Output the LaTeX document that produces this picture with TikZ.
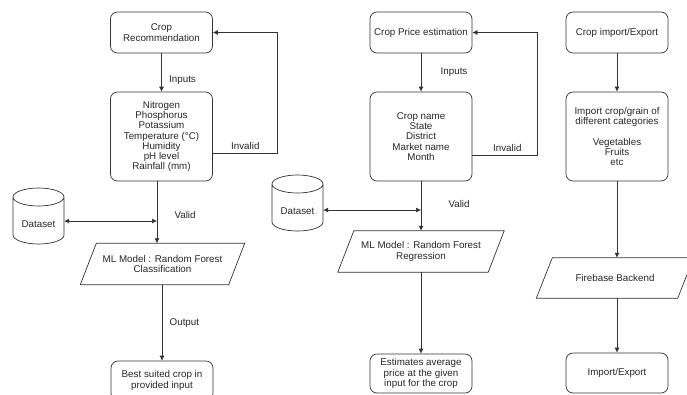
\documentclass[tikz,border=0pt]{standalone}
\usepackage{fontspec}
\setmainfont{Liberation Sans}
\usepackage{tikz}
\usetikzlibrary{arrows.meta, calc, positioning}

\begin{document}
\begin{tikzpicture}[
  x=1pt,
  y=-1pt,
  every node/.style={font=\fontsize{9.8}{10.3}\selectfont, text=black!85},
  stepbox/.style={draw=black!80, line width=0.7pt, rounded corners=7pt, align=center, inner sep=1pt, minimum width=102pt},
  para/.style={align=center, inner sep=1pt, minimum height=41pt},
  store/.style={inner sep=1pt, minimum width=51pt, minimum height=20pt},
  flow/.style={draw=black!80, line width=0.7pt, -{Latex[length=5pt,width=5pt]}},
  twoway/.style={draw=black!80, line width=0.7pt, {Latex[length=5pt,width=5pt]}-{Latex[length=5pt,width=5pt]}},
  plain/.style={draw=black!80, line width=0.7pt}
  ]
    \useasboundingbox (0,0) rectangle (687,394);

    % slanted box round a node
    \newcommand{\slantbox}[1]{\draw[plain] ([xshift=8pt]#1.north west) -- ([xshift=8pt]#1.north east) -- ([xshift=-8pt]#1.south east) -- ([xshift=-8pt]#1.south west) -- cycle;}
    % drum round a node
    \newcommand{\drum}[1]{\draw[plain] ([xshift=-25.5pt, yshift=27pt]#1.center) -- ([xshift=-25.5pt, yshift=-11pt]#1.center) arc[start angle=180, end angle=360, x radius=25.5pt, y radius=9pt] -- ([xshift=25.5pt, yshift=27pt]#1.center) arc[start angle=0, end angle=360, x radius=25.5pt, y radius=9pt];}

%%%%%%%%%% crop recommendation
\node[stepbox, minimum height=41pt] (rec) at (161.5,32.5) {Crop\\Recommendation};
\node[stepbox, minimum height=89pt] (soil) at (161.5,136.5) {Nitrogen\\Phosphorus\\Potassium\\Temperature (°C)\\Humidity\\pH level\\Rainfall (mm)};
\node[para, minimum width=148pt] (rfc) at (162.5,264) {ML Model : Random Forest\\Classification};
\slantbox{rfc}
\node[stepbox, minimum height=39pt] (best) at (162,380.5) {Best suited crop in\\provided input};
\node[store] (data1) at (38.5,224) {Dataset};
\drum{data1}

\coordinate (bad1) at (277,153);
\coordinate (ok1) at (157,221);

\draw[flow] (rec) -- (soil) node[pos=0.7, right=4pt] {Inputs};
\draw[flow] (soil.east |- bad1) -- (bad1) -- (bad1 |- rec.east) -- (rec.east);
\path (bad1) node[above left=0pt and 14pt] {Invalid};
\draw[flow] (soil.south -| ok1) -- (rfc.north -| ok1);
\path (ok1) node[above right=-1pt and 14pt] {Valid};
\draw[twoway] (data1.east |- ok1) -- (ok1);
\draw[flow] (rfc.south -| best.north) -- (best.north) node[midway, right=4pt] {Output};

%%%%%%%%%% crop price
\node[stepbox, minimum height=41pt] (price) at (421,32.5) {Crop Price estimation};
\node[stepbox, minimum height=89pt] (market) at (421,136.5) {Crop name\\State\\District\\Market name\\Month};
\node[para, minimum width=150pt] (rfr) at (421,251.5) {ML Model : Random Forest\\Regression};
\slantbox{rfr}
\node[stepbox, minimum height=39pt] (avg) at (421,373.5) {Estimates average\\price at the given\\input for the crop};
\node[store] (data2) at (297.5,211) {Dataset};
\drum{data2}

\coordinate (bad2) at (537,155);
\coordinate (ok2) at (421,210);

\draw[flow] (price) -- (market) node[pos=0.5, right=16pt] {Inputs};
\draw[flow] (market.east |- bad2) -- (bad2) -- (bad2 |- price.east) -- (price.east);
\path (bad2) node[above left=0pt and 12pt] {Invalid};
\draw[flow] (market.south -| ok2) -- (rfr.north -| ok2);
\path (ok2) node[above right=-1pt and 24pt] {Valid};
\draw[twoway] (data2.east |- ok2) -- (ok2);
\draw[flow] (rfr) -- (avg);

%%%%%%%%%% import / export
\node[stepbox, minimum height=41pt] (trade) at (617,32.5) {Crop import/Export};
\node[stepbox, minimum height=89pt] (kinds) at (617,136.5) {Import crop/grain of\\different categories\\[10.3pt]Vegetables\\Fruits\\etc};
\node[para, minimum width=141pt, minimum height=40pt] (fire) at (615,278) {Firebase Backend};
\slantbox{fire}
\node[stepbox, minimum height=40pt] (io) at (617,373) {Import/Export};

\draw[flow] (trade) -- (kinds);
\draw[flow] (kinds.south) -- (kinds.south |- fire.north);
\draw[flow] (kinds.south |- fire.south) -- (io.north);

\end{tikzpicture}
\end{document}
